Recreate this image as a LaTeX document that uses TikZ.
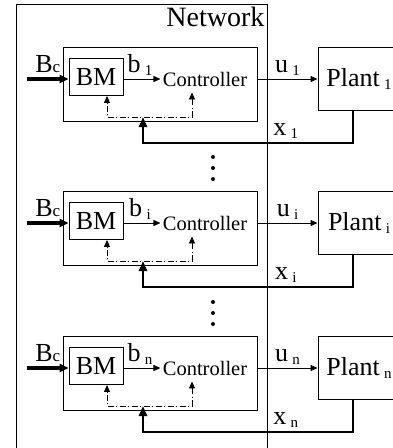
\documentclass[tikz,border=0pt]{standalone}
\usepackage{fontspec}
\setmainfont{Liberation Serif}
\usetikzlibrary{arrows.meta}

\newcommand{\lowidx}[1]{\,\raisebox{-3pt}{\fontsize{15}{15}\selectfont #1}}

\begin{document}
\begin{tikzpicture}[x=1pt,y=-1pt,line width=0.9pt,
  unit/.style={draw,minimum width=54pt,minimum height=37pt,inner sep=0pt,font=\fontsize{26}{26}\selectfont},
  grp/.style={draw,minimum width=194pt,minimum height=74pt},
  lbl/.style={font=\fontsize{26}{26}\selectfont,inner sep=1pt},
  sig/.style={-{Triangle[length=7pt,width=6pt]}},
  meas/.style={{Triangle[length=7pt,width=6pt]}-{Triangle[length=7pt,width=6pt]},dash pattern=on 6pt off 2.5pt on 1pt off 2.5pt},
  fbk/.style={-{Triangle[length=10pt,width=8pt]},line width=2.4pt},
  bus/.style={-{Triangle[length=9pt,width=8pt]},line width=3.6pt}
]
  \clip (0,0) rectangle (393,448);
  \node[draw,anchor=north west,minimum width=251pt,minimum height=470pt] (net) at (16,4) {};
  \node[anchor=north east,font=\fontsize{28}{28}\selectfont,inner sep=3pt] (netlbl) at (net.north east) {Network};

  \foreach \k/\yy/\ix in {1/79/1, 2/223/i, 3/368/n} {
    \node[grp] (box\k) at (160,\yy+5) {};
    \node[unit] (bm\k) at (96,\yy-2) {BM};
    \node[font=\fontsize{20.5}{20.5}\selectfont,inner xsep=2pt,inner ysep=0pt,minimum height=26pt] (ctrl\k) at (205,\yy) {Controller};
    \node[unit,minimum width=82pt,minimum height=63pt] (plant\k) at (359,\yy) {Plant\lowidx{\ix}};
    \coordinate (src\k) at (27,\yy);
    \coordinate (tapr\k) at (192,\yy+38);
    \coordinate (tapl\k) at (107,\yy+38);
    \coordinate (fbc\k) at (143,\yy+64);
    \coordinate (fbin\k) at (143,\yy+38);

    \draw[bus] (src\k) -- node[lbl,above=4pt] {B{\fontsize{17}{17}\selectfont c}} (bm\k.west |- src\k);
    \draw[sig] (bm\k.east |- src\k) -- node[lbl,above=2pt,xshift=-2pt] {b\lowidx{\ix}} (ctrl\k);
    \draw[sig] (box\k.east |- plant\k) -- node[lbl,above=2pt] {u\lowidx{\ix}} (plant\k);
    \draw[meas] (ctrl\k.south -| tapr\k) -- (tapr\k) -- (tapl\k) -- (tapl\k |- bm\k.south);
    \draw[fbk] ([xshift=-6pt]plant\k.south) |- node[lbl,above=2pt,pos=0.66] {x\lowidx{\ix}} (fbc\k) -- (fbin\k);
  }

  \foreach \d in {0,11,22} {
    \fill (213,157+\d) circle (2pt);
    \fill (213,302+\d) circle (2pt);
  }
\end{tikzpicture}
\end{document}
